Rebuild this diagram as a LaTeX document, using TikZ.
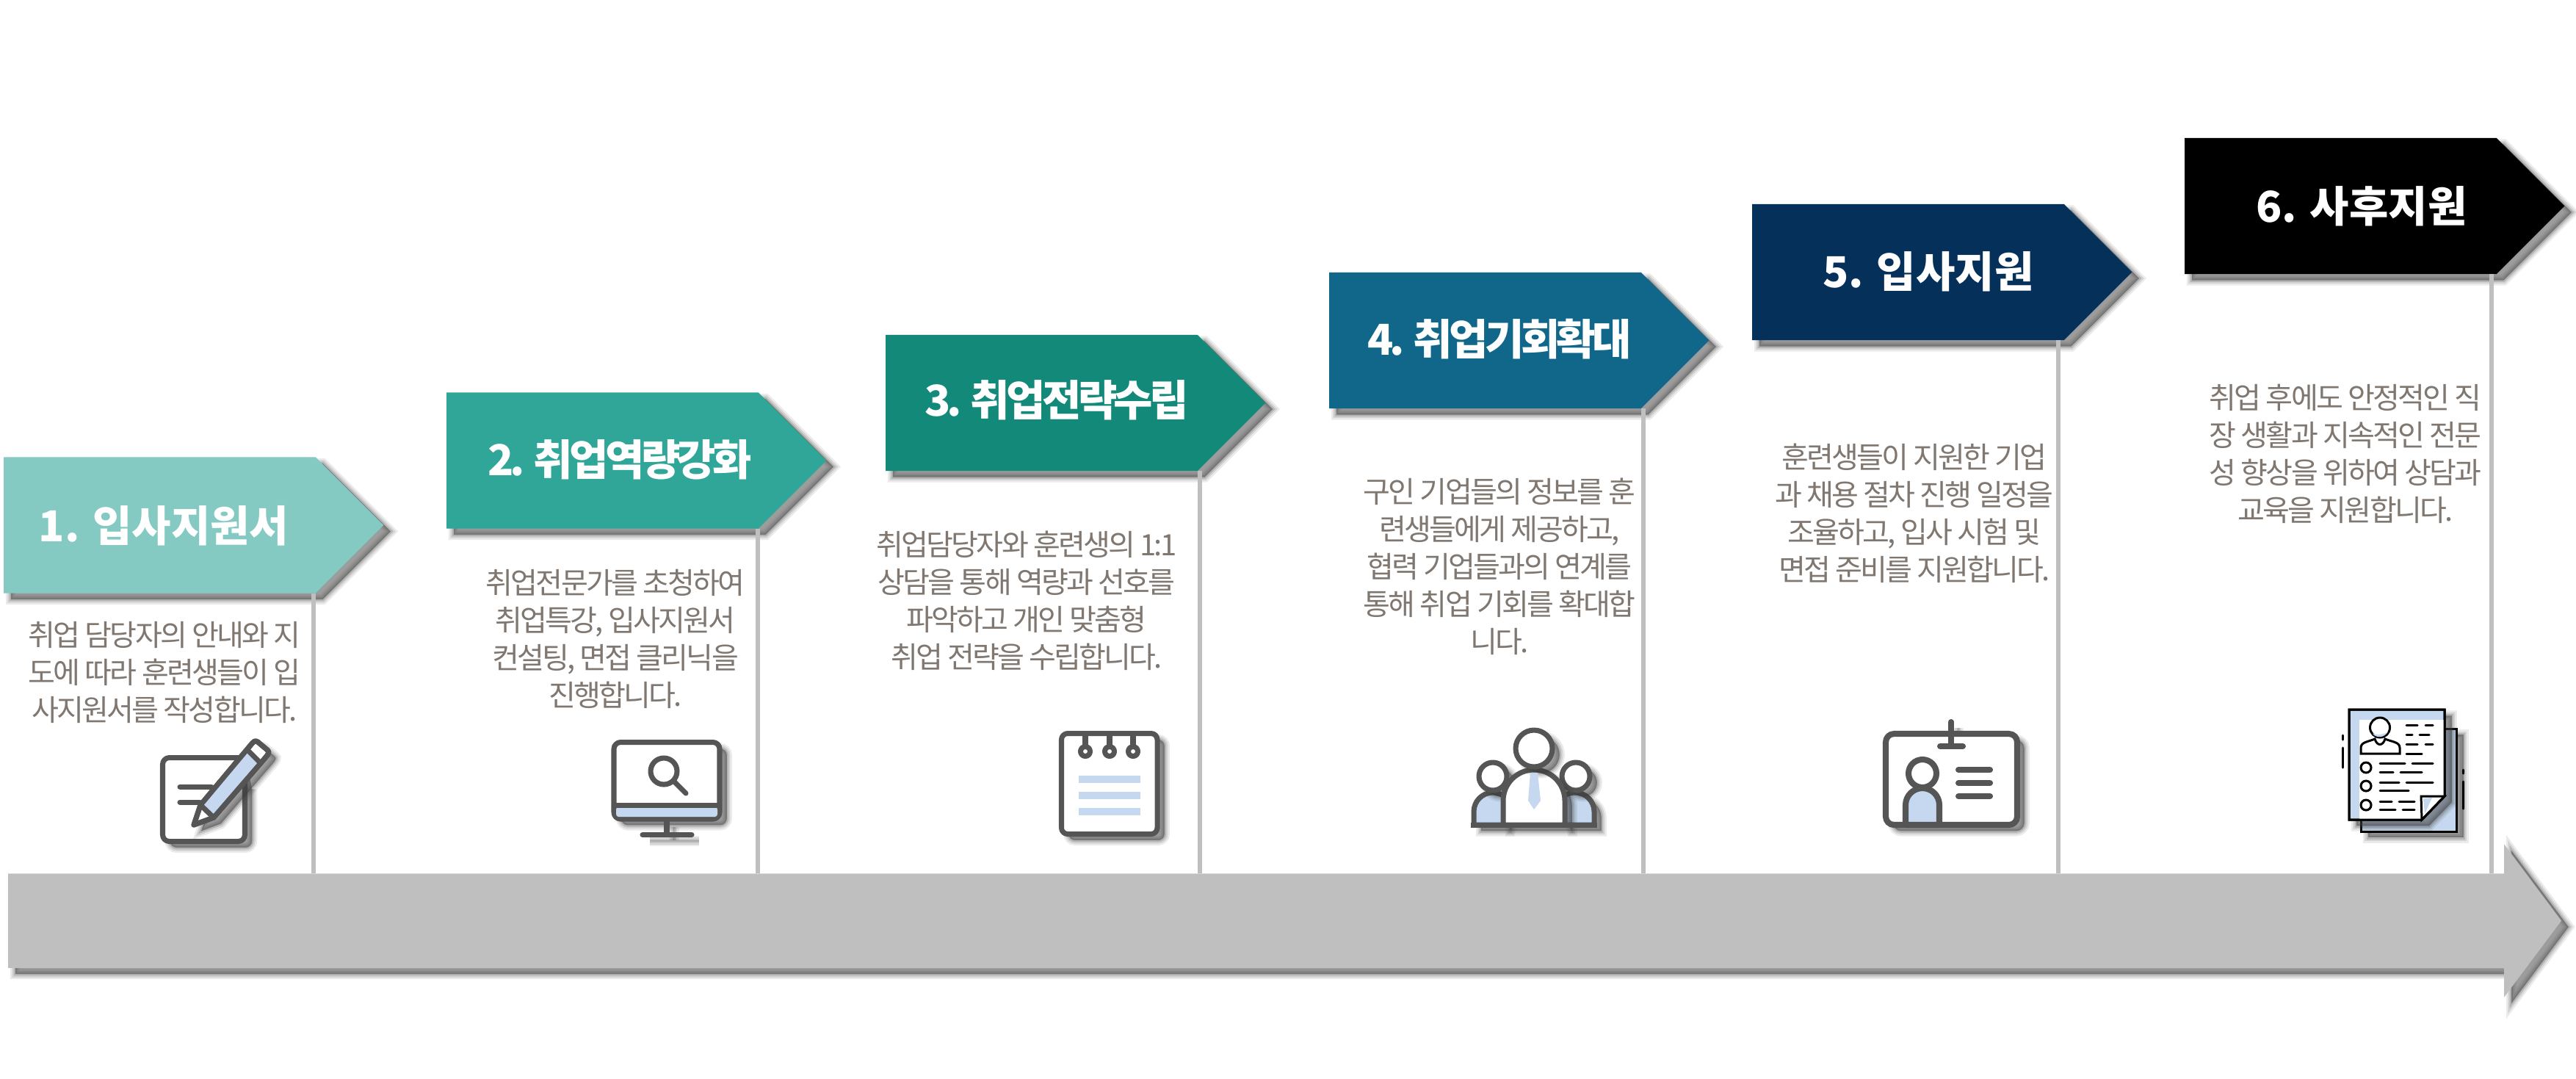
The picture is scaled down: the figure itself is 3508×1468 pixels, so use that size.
\documentclass[tikz,border=0pt]{standalone}
\usepackage{fontspec}
\setmainfont{Noto Sans CJK KR}
\usepackage{tikz}
\usetikzlibrary{shapes.symbols,shapes.arrows,shadows}
\definecolor{shd}{HTML}{3C3C3C}
\definecolor{icg}{HTML}{555555}
\definecolor{icb}{HTML}{C5D8EF}
\definecolor{txg}{HTML}{7F7770}
\definecolor{brg}{HTML}{BFBFBF}
\definecolor{ban1}{HTML}{84CAC2}
\definecolor{ban2}{HTML}{2FA698}
\definecolor{ban3}{HTML}{13897A}
\definecolor{ban4}{HTML}{10678A}
\definecolor{ban5}{HTML}{05305A}

\begin{document}
\begin{tikzpicture}[x=0.01cm, y=-0.01cm,
        blr/.style ={general shadow={shadow xshift=2.8pt, shadow yshift=-2.4pt,
                        fill=shd, draw=shd, line width=4pt, opacity=.1},
                     general shadow={shadow xshift=2.8pt, shadow yshift=-2.4pt,
                        fill=shd, draw=shd, line width=2.6pt, opacity=.14},
                     general shadow={shadow xshift=2.8pt, shadow yshift=-2.4pt,
                        fill=shd, draw=shd, line width=1.3pt, opacity=.2},
                     general shadow={shadow xshift=2.8pt, shadow yshift=-2.4pt,
                        fill=shd, draw=none, opacity=.2}},
        ban/.style ={signal, signal to=east, signal pointer angle=90,
                     minimum width=5.17cm, minimum height=1.85cm,
                     inner sep=0pt, outer sep=0pt, anchor=west, blr},
        hdl/.style ={text=white, font=\fontsize{16.5}{18}\bfseries, inner sep=0pt},
        hdc/.style ={text=white, font=\fontsize{16.5}{18}\bfseries\addfontfeatures{LetterSpace=-8},
                     inner sep=0pt},
        txt/.style ={text=txg, align=center, inner sep=0pt,
                     font=\fontsize{11.4}{14.5}\selectfont\addfontfeatures{LetterSpace=-7}},
        vln/.style ={draw=brg, line width=1.7pt},
        icn/.style ={draw=icg, line width=2pt, line join=round},
        icl/.style ={draw=icg, line width=2pt, line cap=round},
        dsh/.style ={draw=black, line width=.85pt, line cap=round},
        pge/.style ={draw=black, line width=.85pt, line join=miter},]

    \useasboundingbox (0,0) rectangle (3508,1468);

    \node[ban, fill=ban1] (B1) at (5,715) {};
    \node[ban, fill=ban2] (B2) at (608,627) {};
    \node[ban, fill=ban3] (B3) at (1206,548.5) {};
    \node[ban, fill=ban4] (B4) at (1810,463.5) {};
    \node[ban, fill=ban5] (B5) at (2386,370.5) {};
    \node[ban, fill=black] (B6) at (2975,280.5) {};

    \coordinate (F1) at (427,1189);
    \coordinate (F2) at (1032,1189);
    \coordinate (F3) at (1634,1189);
    \coordinate (F4) at (2238,1189);
    \coordinate (F5) at (2803,1189);
    \coordinate (F6) at (3392.5,1189);

    \draw[vln] (F1 |- B1.south) -- (F1);
    \draw[vln] (F2 |- B2.south) -- (F2);
    \draw[vln] (F3 |- B3.south) -- (F3);
    \draw[vln] (F4 |- B4.south) -- (F4);
    \draw[vln] (F5 |- B5.south) -- (F5);
    \draw[vln] (F6 |- B6.south) -- (F6);

    \node[single arrow, fill=brg, blr, anchor=tail, inner sep=0pt, outer sep=0pt,
          text height=1.27cm, text depth=0pt,
          minimum height=34.75cm, minimum width=2.07cm,
          single arrow head extend=.4cm, single arrow tip angle=106.4] (AR) at (11,1253.5) {};

    \node[hdl] (H1) at (223,716) {1. 입사지원서};
    \node[hdc] (H2) at (844,626) {2. 취업역량강화};
    \node[hdc] (H3) at (1439,545) {3. 취업전략수립};
    \node[hdc] (H4) at (2042,462) {4. 취업기회확대};
    \node[hdl] (H5) at (2626,370) {5. 입사지원};
    \node[hdl] (H6) at (3216,281) {6. 사후지원};

    \node[txt] (T1) at (224,915)
        {취업 담당자의 안내와 지\\도에 따라 훈련생들이 입\\사지원서를 작성합니다.};
    \node[txt] (T2) at (838,870)
        {취업전문가를 초청하여\\취업특강, 입사지원서\\컨설팅, 면접 클리닉을\\진행합니다.};
    \node[txt] (T3) at (1398,818)
        {취업담당자와 훈련생의 1:1\\상담을 통해 역량과 선호를\\파악하고 개인 맞춤형\\취업 전략을 수립합니다.};
    \node[txt] (T4) at (2042,771)
        {구인 기업들의 정보를 훈\\련생들에게 제공하고,\\협력 기업들과의 연계를\\통해 취업 기회를 확대합\\니다.};
    \node[txt] (T5) at (2607,699)
        {훈련생들이 지원한 기업\\과 채용 절차 진행 일정을\\조율하고, 입사 시험 및\\면접 준비를 지원합니다.};
    \node[txt] (T6) at (3194,618)
        {취업 후에도 안정적인 직\\장 생활과 지속적인 전문\\성 향상을 위하여 상담과\\교육을 지원합니다.};

    \draw[icn, fill=white, rounded corners=2.6pt, blr]
        (326,1031.5) -- (221.5,1031.5) -- (221.5,1145.5) -- (333.5,1145.5) -- (333.5,1066);
    \draw[icl] (245,1071) -- (288,1071);
    \draw[icl] (245,1092) -- (272,1092);
    \draw[icn, fill=white, blr] (264,1123) -- (273,1096) -- (340,1016) .. controls (345,1010) and (347,1007) .. (351,1010)
        -- (364,1021) .. controls (368,1024) and (365,1027) .. (361,1032) -- (291,1113) -- cycle;
    \fill[icb] (273,1096) -- (337,1021) -- (354,1038) -- (291,1113) -- cycle;
    \draw[icn] (264,1123) -- (273,1096) -- (340,1016) .. controls (345,1010) and (347,1007) .. (351,1010)
        -- (364,1021) .. controls (368,1024) and (365,1027) .. (361,1032) -- (291,1113) -- cycle;
    \draw[icn] (273,1096) -- (291,1113);
    \draw[icn] (337,1021) -- (354,1038);

    \draw[icn, fill=white, rounded corners=2.6pt, blr] (836,1010.5) rectangle (980,1115);
    \fill[icb, rounded corners=1pt] (839,1099) rectangle (977,1112);
    \draw[icn] (836,1096) -- (980,1096);
    \draw[icn, blr] (908,1118) -- (908,1136);
    \draw[icl, blr] (875,1136.5) -- (942,1136.5);
    \draw[icn] (904,1050) circle (18);
    \draw[icl] (918,1064) -- (934,1080);

    \draw[icn, fill=white, rounded corners=2.4pt, blr] (1445.5,998.5) rectangle (1576,1135.5);
    \draw[icn] (1478,999) -- (1478,1018);
    \draw[icn] (1511,999) -- (1511,1018);
    \draw[icn] (1543,999) -- (1543,1018);
    \draw[icn, fill=white] (1478,1023) circle (6.5);
    \draw[icn, fill=white] (1511,1023) circle (6.5);
    \draw[icn, fill=white] (1543,1023) circle (6.5);
    \fill[icb] (1469,1056) rectangle (1553,1066);
    \fill[icb] (1469,1078) rectangle (1553,1088);
    \fill[icb] (1469,1100) rectangle (1553,1110);

    \draw[icn, fill=icb, blr] (2007,1123) -- (2007,1105) arc (180:270:26) arc (270:330:26) -- (2047,1123) -- cycle;
    \draw[icn, fill=icb, blr] (2171,1123) -- (2171,1105) arc (0:-90:26) arc (-90:-150:26) -- (2131,1123) -- cycle;
    \draw[icn, fill=white, blr] (2033,1057) circle (19);
    \draw[icn, fill=white, blr] (2146,1057) circle (19);
    \draw[icn, fill=white, blr] (2047,1123) -- (2047,1090) arc (180:360:42) -- (2131,1123) -- cycle;
    \draw[icn, fill=white, blr] (2089,1019) circle (25);
    \fill[icb] (2084,1052) -- (2094,1052) -- (2098,1090) -- (2089,1102) -- (2081,1090) -- cycle;
    \draw[icl, line cap=butt] (2003,1123) -- (2175,1123);

    \draw[icl, blr] (2657,983) -- (2657,1015);
    \draw[icn, line width=2.3pt, fill=white, rounded corners=3.2pt, blr] (2568,999) rectangle (2747,1123);
    \draw[icl, line width=2.3pt] (2657,983) -- (2657,1015);
    \draw[icl, line width=2.3pt] (2642,1016) -- (2673,1016);
    \draw[icn, line width=2.3pt, fill=icb] (2595,1123) -- (2595,1096) arc (180:360:23) -- (2641,1123) -- cycle;
    \draw[icn, line width=2.3pt, fill=white] (2618,1053) circle (19);
    \draw[icl, line width=2.3pt] (2667,1048) -- (2710,1048);
    \draw[icl, line width=2.3pt] (2667,1066) -- (2710,1066);
    \draw[icl, line width=2.3pt] (2667,1084) -- (2710,1084);

    \draw[pge, fill=icb, blr] (3215,992) rectangle (3345,1132);
    \draw[pge, fill=icb, blr] (3199,966) -- (3329,966) -- (3329,1084) -- (3298,1116) -- (3199,1116) -- cycle;
    \fill[white] (3213,980) -- (3328,980) -- (3328,1084) -- (3298,1115) -- (3213,1115) -- cycle;
    \draw[pge, fill=white] (3297,1084) -- (3329,1084) -- (3298,1116) -- cycle;
    \fill[icb] (3312,1086) -- (3302,1108) -- (3300,1087) -- cycle;
    \draw[pge] (3199,966) -- (3329,966) -- (3329,1084) -- (3298,1116) -- (3199,1116) -- cycle;
    \draw[pge, fill=white] (3215,1026) -- (3215,1018) .. controls (3215,1010) and (3225,1010) .. (3234,1006)
        .. controls (3237,1016) and (3245,1016) .. (3248,1006)
        .. controls (3257,1010) and (3268,1010) .. (3268,1018) -- (3268,1026) -- cycle;
    \draw[pge, fill=white] (3241,990.5) circle (13.5);
    \fill[icb] (3231,999) .. controls (3236,1005) and (3247,1005) .. (3252,996) .. controls (3247,1000) and (3238,1001) .. (3231,999);
    \draw[pge, fill=white] (3222,1045) circle (7);
    \draw[pge, fill=white] (3222,1070) circle (7);
    \draw[pge, fill=white] (3222,1096) circle (7);
    \draw[dsh] (3277,987) -- (3292,987);
    \draw[dsh] (3303,987) -- (3313,987);
    \draw[dsh] (3277,1000) -- (3285,1000);
    \draw[dsh] (3295,1000) -- (3308,1000);
    \draw[dsh] (3277,1013) -- (3292,1013);
    \draw[dsh] (3303,1013) -- (3313,1013);
    \draw[dsh] (3277,1026) -- (3298,1026);
    \draw[dsh] (3241,1039) -- (3275,1039);
    \draw[dsh] (3285,1039) -- (3313,1039);
    \draw[dsh] (3241,1051) -- (3259,1051);
    \draw[dsh] (3269,1051) -- (3298,1051);
    \draw[dsh] (3241,1065) -- (3267,1065);
    \draw[dsh] (3277,1065) -- (3313,1065);
    \draw[dsh] (3241,1076) -- (3280,1076);
    \draw[dsh] (3241,1091) -- (3257,1091);
    \draw[dsh] (3267,1091) -- (3288,1091);
    \draw[dsh] (3241,1102) -- (3262,1102);
    \draw[dsh] (3272,1102) -- (3288,1102);
    \draw[dsh] (3190,1001) -- (3190,1007);
    \draw[dsh] (3190,1018) -- (3190,1045);
    \draw[dsh] (3354,1048) -- (3354,1053);
    \draw[dsh] (3354,1064) -- (3354,1101);
\end{tikzpicture}
\end{document}
